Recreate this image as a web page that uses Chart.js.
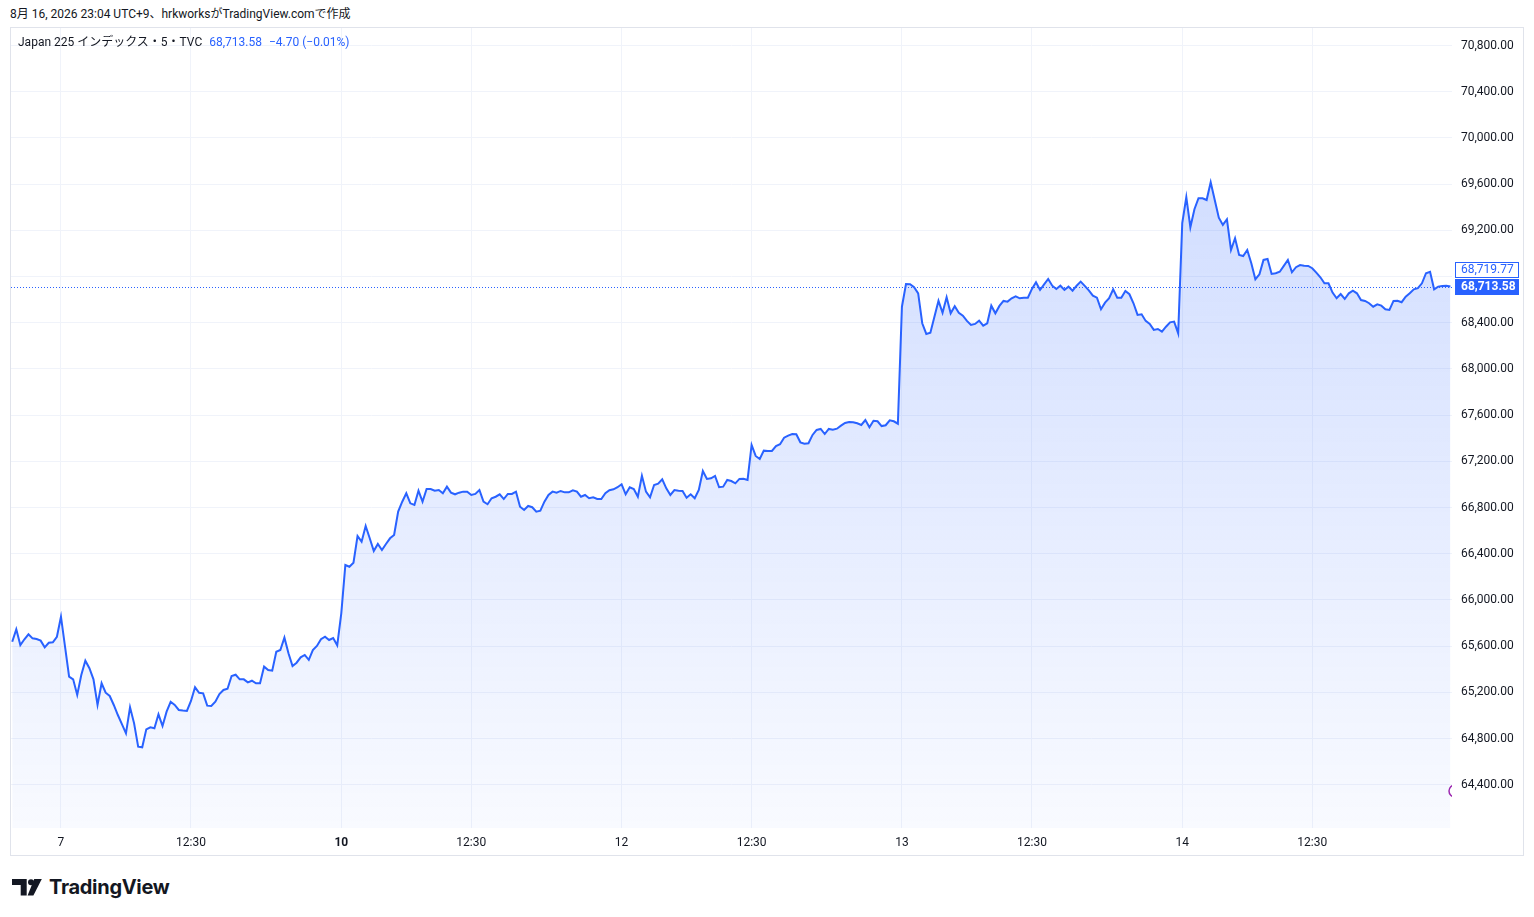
<!DOCTYPE html>
<html>
<head>
<meta charset="utf-8">
<script src="https://cdn.jsdelivr.net/npm/chart.js@4.4.1/dist/chart.umd.min.js"></script>
<style>
  html, body { margin: 0; padding: 0; background: #ffffff; }
  body { width: 1534px; height: 917px; overflow: hidden; position: relative;
         font-family: Roboto, "Noto Sans CJK JP", sans-serif; color: #131722; }
  #title { position: absolute; left: 10px; top: 6px; font-size: 12px; line-height: 16px; white-space: nowrap; }
  #frame { position: absolute; left: 10px; top: 27px; width: 1512px; height: 827px; border: 1px solid #e0e3eb; }
  #c { position: absolute; left: 0; top: 0; }
  #legend { position: absolute; left: 7px; top: 6px; font-size: 12px; line-height: 16px; white-space: nowrap; }
  #legend .blue { color: #2962ff; }
  #logo { position: absolute; left: 12px; top: 877px; height: 20px; display: flex; align-items: center; }
  #logo span { font-family: Inter, "Open Sans", sans-serif; font-weight: 700; font-size: 20px; color: #131722; margin-left: 7px; letter-spacing: -0.3px; }
</style>
</head>
<body>
<div id="title">8月 16, 2026 23:04 UTC+9、hrkworksがTradingView.comで作成</div>
<div id="frame">
  <canvas id="c" width="1512" height="827"></canvas>
  <div id="legend"></div>
</div>
<div id="logo">
  <svg width="30" height="17" viewBox="0 0 30 17">
    <path d="M0 0H14.7V16.5H8.7V6H0Z" fill="#131722"/>
    <circle cx="19" cy="3.2" r="3" fill="#131722"/>
    <path d="M22.2 0H29.8L21.4 16.5H15.6Z" fill="#131722"/>
  </svg>
  <span>TradingView</span>
</div>
<script>
// ---- data (5-minute closes, Japan 225 index, TVC) ----
const firstBar = -12;           // bar index of the first close (last bars of Aug 6)
const aug6Tail = [65639, 65746, 65610, 65660, 65703, 65668, 65662, 65648, 65590, 65630, 65634, 65682];
const aug7 = [65855, 65596, 65336, 65313, 65178, 65351, 65474, 65409, 65313, 65091, 65279, 65197, 65169, 65091, 65004, 64926, 64846, 65071, 64932, 64730, 64725, 64880, 64898, 64889, 65010, 64909, 65033, 65119, 65091, 65048, 65043, 65039, 65126, 65244, 65197, 65192, 65085, 65082, 65119, 65186, 65221, 65232, 65342, 65353, 65313, 65313, 65287, 65301, 65279, 65279, 65423, 65394, 65388, 65552, 65567, 65674, 65539, 65429, 65457, 65504, 65524, 65481, 65567, 65602, 65660, 65682, 65654, 65671, 65608];
const aug10 = [65885, 66303, 66288, 66323, 66554, 66505, 66641, 66534, 66424, 66485, 66433, 66485, 66534, 66563, 66765, 66851, 66924, 66837, 66823, 66946, 66851, 66961, 66961, 66946, 66952, 66924, 66981, 66929, 66915, 66929, 66938, 66938, 66909, 66918, 66952, 66851, 66829, 66881, 66894, 66915, 66874, 66918, 66918, 66938, 66808, 66779, 66814, 66803, 66765, 66773, 66851, 66909, 66938, 66929, 66944, 66932, 66932, 66950, 66938, 66894, 66909, 66881, 66889, 66874, 66874, 66924, 66950, 66958, 66976];
const aug12 = [67002, 66915, 66976, 66961, 66894, 67076, 66938, 66889, 66996, 67007, 67045, 66967, 66909, 66952, 66946, 66944, 66886, 66915, 66881, 66952, 67117, 67048, 67054, 67074, 66976, 66981, 67039, 67030, 67010, 67048, 67050, 67039, 67342, 67247, 67221, 67293, 67290, 67290, 67333, 67348, 67405, 67423, 67437, 67435, 67365, 67353, 67357, 67429, 67472, 67481, 67437, 67481, 67474, 67483, 67509, 67532, 67541, 67538, 67530, 67515, 67558, 67495, 67552, 67547, 67506, 67513, 67556, 67547, 67526];
const aug13 = [68539, 68736, 68733, 68707, 68655, 68396, 68303, 68314, 68453, 68591, 68487, 68621, 68482, 68543, 68487, 68462, 68416, 68381, 68390, 68418, 68375, 68396, 68548, 68482, 68546, 68589, 68583, 68612, 68629, 68612, 68617, 68617, 68693, 68751, 68684, 68733, 68779, 68721, 68693, 68721, 68684, 68713, 68678, 68721, 68756, 68719, 68680, 68635, 68617, 68517, 68574, 68612, 68690, 68617, 68617, 68675, 68647, 68569, 68468, 68474, 68416, 68390, 68338, 68346, 68323, 68366, 68404, 68410, 68309];
const aug14 = [69262, 69487, 69227, 69383, 69478, 69478, 69463, 69617, 69463, 69310, 69247, 69296, 69030, 69132, 68987, 68978, 69030, 68915, 68777, 68820, 68944, 68952, 68823, 68829, 68842, 68892, 68944, 68837, 68881, 68900, 68894, 68892, 68872, 68834, 68794, 68742, 68742, 68661, 68612, 68649, 68606, 68655, 68678, 68655, 68597, 68589, 68569, 68539, 68560, 68548, 68517, 68511, 68589, 68591, 68578, 68626, 68655, 68690, 68699, 68742, 68829, 68842, 68690, 68713, 68719, 68721, 68713.58];

const lastPrice = 68713.58;
const markPrice = 68719.77;
const changeAbs = -4.70;
const changePct = -0.01;

// time axis ticks (bar index -> label)
const tickBars   = [0, 32, 69, 101, 138, 170, 207, 239, 276, 308];
const tickLabels = ['7', '12:30', '10', '12:30', '12', '12:30', '13', '12:30', '14', '12:30'];
const boldLabels = ['10'];

// price axis
const priceTicks = [64400, 64800, 65200, 65600, 66000, 66400, 66800, 67200, 67600, 68000, 68400, 68800, 69200, 69600, 70000, 70400, 70800];
const priceMin = 64026, priceMax = 70952;
const barMin = -12.3, barMax = 342.4;

// ---- build ----
const closes = [...aug6Tail, ...aug7, ...aug10, ...aug12, ...aug13, ...aug14];
const points = closes.map((v, i) => ({ x: firstBar + i, y: v }));
const fmt = v => Number(v).toLocaleString('en-US', { minimumFractionDigits: 2, maximumFractionDigits: 2 });
const FONT = 'Roboto, "Noto Sans CJK JP", sans-serif';

document.getElementById('legend').innerHTML =
  'Japan 225 インデックス・5・TVC<span class="blue" style="margin-left:7px">' + fmt(lastPrice) +
  '</span><span class="blue" style="margin-left:7px">' + (changeAbs < 0 ? '−' : '+') + Math.abs(changeAbs).toFixed(2) +
  ' (' + (changePct < 0 ? '−' : '+') + Math.abs(changePct).toFixed(2) + '%)</span>';

const overlay = {
  id: 'overlay',
  afterDatasetsDraw(chart) {
    const { ctx, chartArea: a, scales: { y } } = chart;
    const py = y.getPixelForValue(lastPrice);
    ctx.save();
    ctx.strokeStyle = '#2962ff';
    ctx.lineWidth = 1;
    ctx.setLineDash([1, 2]);
    ctx.beginPath();
    ctx.moveTo(a.left, Math.round(py) + 0.5);
    ctx.lineTo(a.right, Math.round(py) + 0.5);
    ctx.stroke();
    ctx.setLineDash([]);
    ctx.beginPath();
    ctx.rect(a.left, a.top, a.right - a.left, a.bottom - a.top);
    ctx.clip();
    ctx.strokeStyle = '#9c27b0';
    ctx.lineWidth = 1.5;
    ctx.beginPath();
    ctx.arc(a.right + 3, a.bottom - 37, 6, 0, Math.PI * 2);
    ctx.stroke();
    ctx.restore();
  },
  afterDraw(chart) {
    const { ctx, chartArea: a, scales: { y } } = chart;
    const py = Math.round(y.getPixelForValue(lastPrice));
    const bx = a.right + 3, bw = 64, bh = 16;
    ctx.save();
    ctx.fillStyle = '#ffffff';
    ctx.fillRect(a.right + 1, py - 27, 70, 36);
    ctx.fillStyle = '#ffffff';
    ctx.strokeStyle = '#2962ff';
    ctx.lineWidth = 1;
    ctx.fillRect(bx, py - 25, bw, bh);
    ctx.strokeRect(bx + 0.5, py - 25 + 0.5, bw - 1, bh - 1);
    ctx.font = '12px ' + FONT;
    ctx.textBaseline = 'middle';
    ctx.textAlign = 'left';
    ctx.fillStyle = '#2962ff';
    ctx.fillText(fmt(markPrice), a.right + 9, py - 17);
    ctx.fillStyle = '#2962ff';
    ctx.fillRect(bx, py - 8, bw, bh);
    ctx.fillStyle = '#ffffff';
    ctx.font = 'bold 12px ' + FONT;
    ctx.fillText(fmt(lastPrice), a.right + 9, py);
    ctx.restore();
  }
};

new Chart(document.getElementById('c'), {
  type: 'line',
  data: {
    datasets: [{
      data: points,
      borderColor: '#2962ff',
      borderWidth: 2,
      pointRadius: 0,
      tension: 0,
      fill: 'start',
      backgroundColor: (c) => {
        const chart = c.chart;
        const a = chart.chartArea;
        if (!a) return 'rgba(41,98,255,0.1)';
        const top = chart.scales.y.getPixelForValue(Math.max(...closes));
        const g = chart.ctx.createLinearGradient(0, top, 0, a.bottom);
        g.addColorStop(0, 'rgba(41,98,255,0.21)');
        g.addColorStop(1, 'rgba(41,98,255,0.03)');
        return g;
      }
    }]
  },
  options: {
    responsive: false,
    animation: false,
    layout: { padding: 0 },
    plugins: { legend: { display: false }, tooltip: { enabled: false } },
    scales: {
      x: {
        type: 'linear', min: barMin, max: barMax,
        afterBuildTicks: s => { s.ticks = tickBars.map(v => ({ value: v })); },
        afterFit: s => { s.height = 27; s.paddingLeft = 0; s.paddingRight = 0; },
        grid: { color: '#f0f3fa', drawTicks: false, lineWidth: 1 },
        border: { display: false },
        ticks: {
          autoSkip: false, maxRotation: 0, padding: 8, color: '#131722',
          font: c => ({ family: FONT, size: 12, weight: (c.tick && boldLabels.includes(tickLabels[tickBars.indexOf(c.tick.value)])) ? 'bold' : 'normal' }),
          callback: v => { const i = tickBars.indexOf(v); return i >= 0 ? tickLabels[i] : ''; }
        }
      },
      y: {
        position: 'right', min: priceMin, max: priceMax,
        afterBuildTicks: s => { s.ticks = priceTicks.map(v => ({ value: v })); },
        afterFit: s => { s.width = 71; s.paddingTop = 0; s.paddingBottom = 0; },
        grid: { color: '#f0f3fa', drawTicks: false, lineWidth: 1 },
        border: { display: false },
        ticks: { padding: 9, color: '#131722', font: { family: FONT, size: 12 }, callback: v => fmt(v) }
      }
    }
  },
  plugins: [overlay]
});
</script>
</body>
</html>
